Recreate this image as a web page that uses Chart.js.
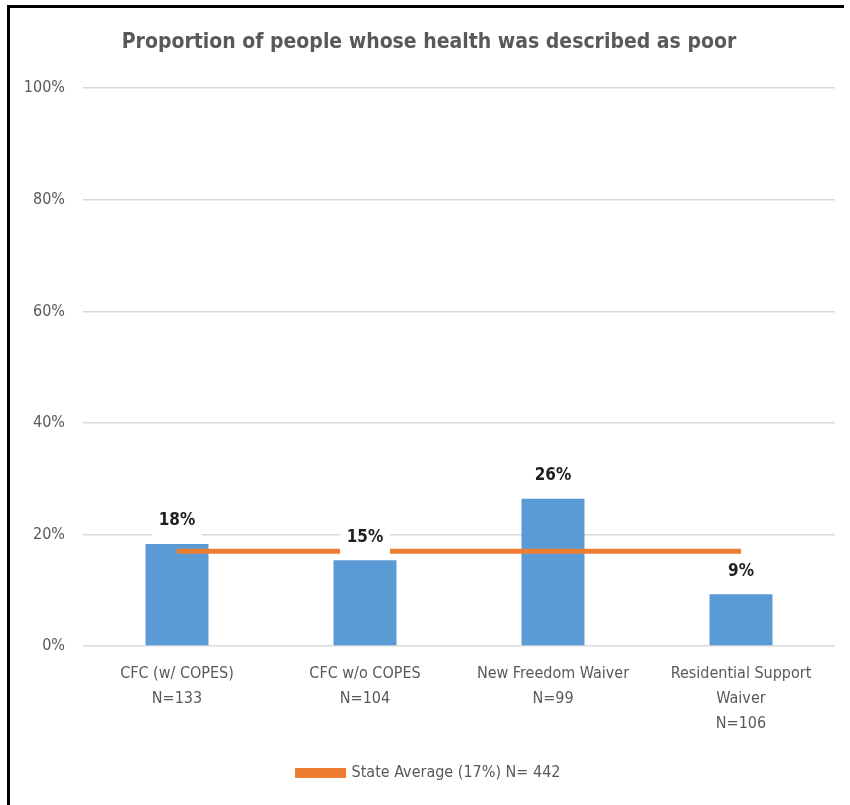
<!DOCTYPE html>
<html>
<head>
<meta charset="utf-8">
<script src="https://cdn.jsdelivr.net/npm/chart.js@4"></script>
<style>
  body { margin: 0; background: #fff; }
  .wrap { position: relative; width: 850px; height: 805px; }
  .frame {
    position: absolute; left: 7px; top: 5px; width: 834px; height: 800px;
    border-top: 3px solid #000; border-left: 3px solid #000;
    pointer-events: none;
  }
  canvas { position: absolute; left: 0; top: 0; }
</style>
</head>
<body>
<div class="wrap">
  <canvas id="chart" width="850" height="805"></canvas>
  <div class="frame"></div>
</div>
<script>
const categories = [
  ['CFC (w/ COPES)', 'N=133'],
  ['CFC w/o COPES', 'N=104'],
  ['New Freedom Waiver', 'N=99'],
  ['Residential Support', 'Waiver', 'N=106'],
];
const programValues = [18.3, 15.4, 26.4, 9.3];
const stateAverage = [17, 17, 17, 17];
const yTicks = [0, 20, 40, 60, 80, 100];

const FONT = '"Liberation Sans Narrow", "DejaVu Sans Condensed", "Roboto", sans-serif';
const GREY = '#595959';

// value labels on white boxes, drawn over the average line
const barLabels = {
  id: 'barLabels',
  afterDatasetsDraw(chart) {
    const ctx = chart.ctx;
    const meta = chart.getDatasetMeta(0);
    ctx.save();
    ctx.font = 'bold 17px ' + FONT;
    ctx.textAlign = 'center';
    ctx.textBaseline = 'middle';
    meta.data.forEach((bar, i) => {
      const cy = bar.y - 23;
      ctx.fillStyle = '#fff';
      ctx.fillRect(bar.x - 25, cy - 17, 50, 34);
      ctx.fillStyle = '#1f1f1f';
      ctx.fillText(Math.round(programValues[i]) + '%', bar.x, cy);
    });
    ctx.restore();
  },
};

new Chart(document.getElementById('chart'), {
  data: {
    labels: categories,
    datasets: [
      {
        type: 'bar',
        label: 'Program',
        data: programValues,
        backgroundColor: '#5B9BD5',
        categoryPercentage: 1,
        barPercentage: 0.335,
        order: 1,
      },
      {
        type: 'line',
        label: 'State Average (17%) N= 442',
        data: stateAverage,
        borderColor: '#ED7D31',
        backgroundColor: '#ED7D31',
        borderWidth: 5,
        pointRadius: 0,
        order: 0,
      },
    ],
  },
  options: {
    responsive: false,
    animation: false,
    layout: { padding: { top: 10, left: 23, right: 15, bottom: 14 } },
    plugins: {
      title: {
        display: true,
        text: 'Proportion of people whose health was described as poor',
        color: GREY,
        font: { family: FONT, size: 21, weight: 'bold' },
        padding: { top: 20, bottom: 33 },
      },
      legend: {
        position: 'bottom',
        labels: {
          color: GREY,
          font: { family: FONT, size: 16 },
          padding: 18,
          boxWidth: 46,
          boxHeight: 5,
          filter: item => item.datasetIndex === 1,
        },
      },
      tooltip: { enabled: false },
    },
    scales: {
      x: {
        grid: { display: false },
        border: { display: false },
        ticks: {
          color: GREY,
          font: { family: FONT, size: 16, lineHeight: 1.56 },
          padding: 7,
          maxRotation: 0,
          autoSkip: false,
        },
        afterFit: s => { s.height += 4; },
      },
      y: {
        min: 0,
        max: 100,
        afterBuildTicks: s => { s.ticks = yTicks.map(v => ({ value: v })); },
        grid: { color: '#D9D9D9', lineWidth: 1.5, drawTicks: false },
        border: { display: false },
        ticks: {
          color: GREY,
          font: { family: FONT, size: 16 },
          padding: 18,
          callback: v => v + '%',
        },
        afterFit: s => { s.width = 60; },
      },
    },
  },
  plugins: [barLabels],
});
</script>
</body>
</html>
